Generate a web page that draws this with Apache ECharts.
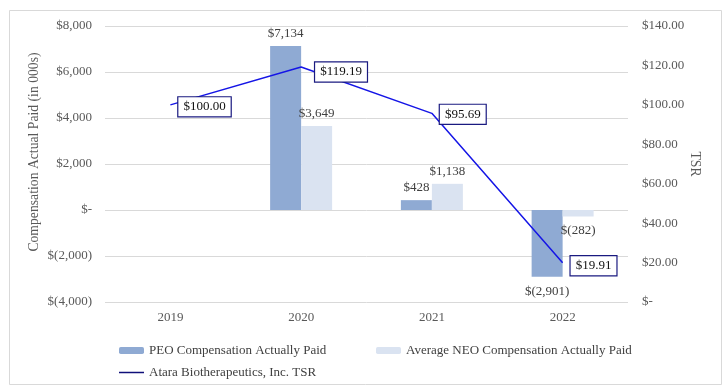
<!DOCTYPE html>
<html>
<head>
<meta charset="utf-8">
<script src="https://cdn.jsdelivr.net/npm/echarts@6/dist/echarts.min.js"></script>
<style>
html,body{margin:0;padding:0;background:#fff;}
#chart{width:728px;height:387px;}
</style>
</head>
<body>
<div id="chart"></div>
<script>
const categories = ['2019', '2020', '2021', '2022'];
const peoValues = [null, 7134, 428, -2901];
const neoValues = [null, 3649, 1138, -282];
const tsrValues = [100.00, 119.19, 95.69, 19.91];
const seriesNames = ['PEO Compensation Actually Paid', 'Average NEO Compensation Actually Paid', 'Atara Biotherapeutics, Inc. TSR'];
const leftAxisName = 'Compensation Actual Paid (in 000s)';
const rightAxisName = 'TSR';

const FONT = '"Liberation Serif", "Times New Roman", serif';

function fmtK(v) {
  if (v === 0) return '$-';
  const s = Math.abs(v).toLocaleString('en-US');
  return v < 0 ? '$(' + s + ')' : '$' + s;
}
function fmtD(v) {
  if (v === 0) return '$-';
  return '$' + v.toFixed(2);
}
function barData(arr) {
  return arr.map(v => v === null ? '-' : {
    value: v,
    label: { position: v < 0 ? 'bottom' : 'top', distance: v < 0 ? 8 : 6 }
  });
}
const tsrOffsets = [[0, 2], [6, 5], [0, 1], [0, 3]];
const tsrData = tsrValues.map((v, i) => ({ value: v, label: { offset: tsrOffsets[i] } }));

const legendText = { fontFamily: FONT, fontSize: 13, color: '#404040' };

const chart = echarts.init(document.getElementById('chart'));
chart.setOption({
  animation: false,
  backgroundColor: '#fff',
  textStyle: { fontFamily: FONT },
  graphic: [{
    type: 'rect', shape: { x: 9.5, y: 10.5, width: 712, height: 374 },
    style: { fill: 'none', stroke: '#d9d9d9', lineWidth: 1 }, silent: true
  }],
  grid: { left: 105, right: 100, top: 26, bottom: 85 },
  legend: [
    { data: [seriesNames[0]], left: 114, top: 339, itemWidth: 25, itemHeight: 7, textStyle: legendText },
    { data: [seriesNames[1]], left: 371, top: 339, itemWidth: 25, itemHeight: 7, textStyle: legendText },
    { data: [{ name: seriesNames[2], icon: 'rect', itemStyle: { color: '#10107a' } }],
      left: 114, top: 361, itemWidth: 25, itemHeight: 1.5, textStyle: legendText }
  ],
  xAxis: {
    type: 'category', data: categories,
    axisLine: { show: false }, axisTick: { show: false },
    axisLabel: { fontFamily: FONT, fontSize: 13, color: '#595959', margin: 9 }
  },
  yAxis: [{
    type: 'value', min: -4000, max: 8000, interval: 2000,
    name: leftAxisName, nameLocation: 'middle', nameRotate: 90, nameGap: 64, nameMoveOverlap: false,
    nameTextStyle: { fontFamily: FONT, fontSize: 13.7, color: '#595959', padding: [0, 0, 0, 24] },
    axisLine: { show: false }, axisTick: { show: false },
    axisLabel: { fontFamily: FONT, fontSize: 13, color: '#595959', margin: 13, formatter: fmtK },
    splitLine: { lineStyle: { color: '#d9d9d9', width: 1 } }
  }, {
    type: 'value', min: 0, max: 140, interval: 20, position: 'right',
    name: rightAxisName, nameLocation: 'middle', nameRotate: -90, nameGap: 60, nameMoveOverlap: false,
    nameTextStyle: { fontFamily: FONT, fontSize: 13.7, color: '#595959' },
    axisLine: { show: false }, axisTick: { show: false },
    axisLabel: { fontFamily: FONT, fontSize: 13, color: '#595959', margin: 14, formatter: fmtD },
    splitLine: { show: false }
  }],
  series: [{
    name: seriesNames[0], type: 'bar', data: barData(peoValues),
    barWidth: 31, barGap: '0%',
    itemStyle: { color: '#8faad3' },
    label: { show: true, fontFamily: FONT, fontSize: 13, color: '#404040', formatter: p => fmtK(p.value) }
  }, {
    name: seriesNames[1], type: 'bar', data: barData(neoValues),
    barWidth: 31, barGap: '0%',
    itemStyle: { color: '#dae3f1' },
    label: { show: true, fontFamily: FONT, fontSize: 13, color: '#404040', formatter: p => fmtK(p.value) }
  }, {
    name: seriesNames[2], type: 'line', yAxisIndex: 1, data: tsrData,
    symbol: 'circle', symbolSize: 0,
    lineStyle: { color: '#1515e6', width: 1.5 },
    itemStyle: { color: '#1515e6' },
    label: {
      show: true, position: 'right', distance: 8,
      fontFamily: FONT, fontSize: 13, color: '#111',
      backgroundColor: '#fff', borderColor: '#1a1a80', borderWidth: 1.2,
      padding: [3, 5, 3, 5],
      formatter: p => fmtD(p.value)
    },
    z: 5
  }]
});
</script>
</body>
</html>
